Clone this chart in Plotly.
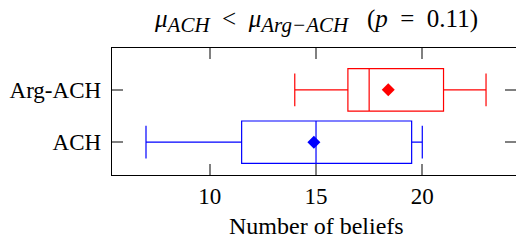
import plotly.graph_objects as go

categories = ["ACH", "Arg-ACH"]
lower_whisker = [7.0, 14.0]
q1_vals = [11.5, 16.5]
medians = [15.0, 17.5]
q3_vals = [19.5, 21.0]
upper_whisker = [20.0, 23.0]
means = [14.9, 18.4]
colors = ["#0000ff", "#ff0000"]
x_ticks = [10, 15, 20]

SERIF = "Liberation Serif"
TICK_COLOR = "#808080"

fig = go.Figure()
for i, cat in enumerate(categories):
    fig.add_trace(go.Box(
        y=[cat], q1=[q1_vals[i]], median=[medians[i]], q3=[q3_vals[i]],
        lowerfence=[lower_whisker[i]], upperfence=[upper_whisker[i]],
        orientation="h", width=0.81, whiskerwidth=0.77,
        line=dict(color=colors[i], width=1.2),
        fillcolor="rgba(0,0,0,0)", boxpoints=False, showlegend=False,
        hoverinfo="skip",
    ))
    fig.add_trace(go.Scatter(
        x=[means[i]], y=[cat], mode="markers",
        marker=dict(symbol="diamond", size=10, color=colors[i],
                    line=dict(width=0)),
        showlegend=False, hoverinfo="skip",
    ))

sub = '<sub><span style="font-size:21px"><i>{}</i></span></sub>'
title_text = ("<i>μ</i>" + sub.format("ACH") + "  &lt;  <i>μ</i>"
              + sub.format("Arg−ACH") + "   (<i>p</i>  =  0.11)")
fig.add_annotation(
    x=15, xref="x", y=1, yref="paper", yanchor="bottom", yshift=9,
    text=title_text, showarrow=False,
    font=dict(family=SERIF, size=25, color="black"),
)
fig.add_annotation(
    x=15, xref="x", y=0, yref="paper", yanchor="top", yshift=-36,
    text="Number of beliefs", showarrow=False,
    font=dict(family=SERIF, size=24, color="black"),
)

fig.update_layout(
    width=516, height=242,
    margin=dict(l=112, r=0, t=48, b=67),
    paper_bgcolor="white", plot_bgcolor="white",
    font=dict(family=SERIF, size=22, color="black"),
    xaxis=dict(
        range=[5.4, 24.41], tickmode="array", tickvals=x_ticks,
        ticktext=[str(v) for v in x_ticks],
        showgrid=False, zeroline=False, showline=True, linecolor="black",
        linewidth=1.3, mirror="allticks", ticks="inside", ticklen=11,
        tickcolor=TICK_COLOR, tickwidth=2, tickfont=dict(size=23),
        automargin=False,
    ),
    yaxis=dict(
        type="category", categoryorder="array", categoryarray=categories,
        range=[-0.627, 1.80], showgrid=False, zeroline=False,
        showline=True, linecolor="black", linewidth=1.3, mirror="allticks",
        ticks="inside", ticklen=11, tickcolor=TICK_COLOR, tickwidth=2,
        tickfont=dict(size=23), automargin=False, ticklabelstandoff=5,
    ),
)

fig.write_html(
    "out.html",
    config={"displayModeBar": False, "staticPlot": True},
    post_script="document.body.style.margin='0';document.body.style.overflow='hidden';",
)
